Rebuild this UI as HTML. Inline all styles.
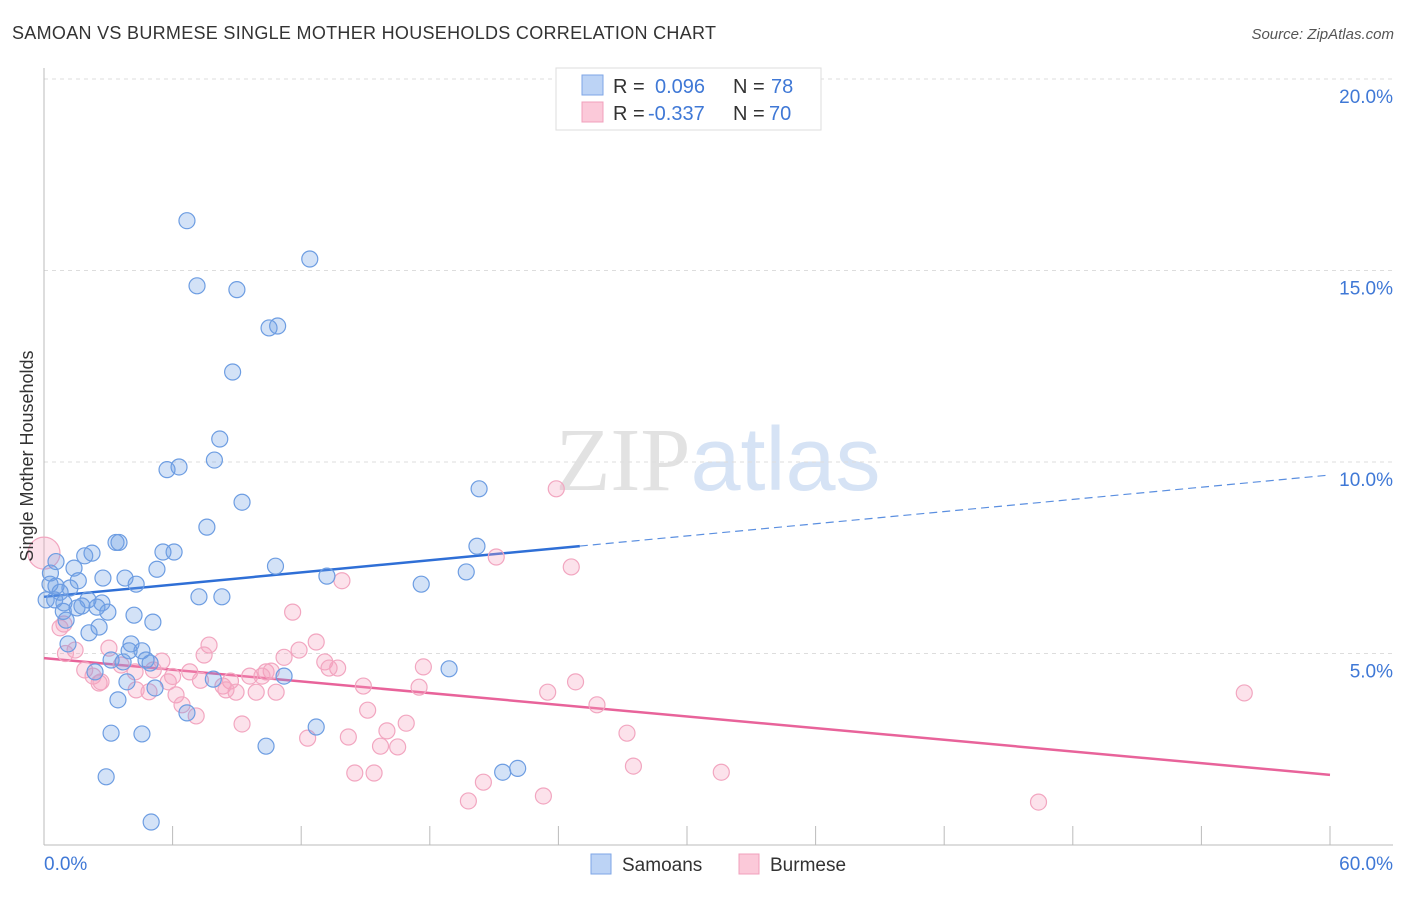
<!DOCTYPE html>
<html><head><meta charset="utf-8"><style>
body{margin:0;background:#fff;font-family:"Liberation Sans",sans-serif;}
svg text{font-family:"Liberation Sans",sans-serif;}
</style></head><body>
<svg id="chart" width="1406" height="892" xmlns="http://www.w3.org/2000/svg">
<text x="12" y="39" font-size="18" fill="#333" textLength="704" lengthAdjust="spacing">SAMOAN VS BURMESE SINGLE MOTHER HOUSEHOLDS CORRELATION CHART</text>
<text x="1394" y="39" font-size="15" fill="#555" text-anchor="end" font-style="italic">Source: ZipAtlas.com</text>
<text x="718" y="490" font-size="90" text-anchor="middle"><tspan fill="#e2e2e2" font-family="Liberation Serif">ZIP</tspan><tspan fill="#d6e3f5">atlas</tspan></text>
<g id="grid"></g>
<g id="axes"></g>
<g id="trends"></g>
<g id="points"></g>
<text transform="translate(33,456) rotate(-90)" font-size="18" fill="#333" text-anchor="middle">Single Mother Households</text>
<g>
<rect x="556" y="68" width="265" height="62" fill="#fff" stroke="#ddd"/>
<rect x="582" y="75" width="21" height="20" fill="#bcd3f5" stroke="#7ea6e6"/>
<rect x="582" y="102" width="21" height="20" fill="#fbc9d9" stroke="#f0a0bc"/>
<text x="613" y="93" font-size="20" fill="#333">R =</text><text x="655" y="93" font-size="20" fill="#3f78d6">0.096</text>
<text x="733" y="93" font-size="20" fill="#333">N =</text><text x="771" y="93" font-size="20" fill="#3f78d6">78</text>
<text x="613" y="120" font-size="20" fill="#333">R =</text><text x="648" y="120" font-size="20" fill="#3f78d6">-0.337</text>
<text x="733" y="120" font-size="20" fill="#333">N =</text><text x="769" y="120" font-size="20" fill="#3f78d6">70</text>
</g>
<g>
<rect x="591" y="854" width="20" height="20" fill="#bcd3f5" stroke="#7ea6e6"/>
<text x="622" y="871" font-size="19" fill="#333">Samoans</text>
<rect x="739" y="854" width="20" height="20" fill="#fbc9d9" stroke="#f0a0bc"/>
<text x="770" y="871" font-size="19" fill="#333">Burmese</text>
</g>
</svg>
<script>
const xTicks=[0,6,12,18,24,30,36,42,48,54,60];
const yTicks=[5,10,15,20];
const yTickLabels=["5.0%","10.0%","15.0%","20.0%"];
const xTickLabels=["0.0%","60.0%"];
const samoanX=[6.67,12.4,7.14,9.0,10.5,10.9,8.8,8.2,7.95,5.74,6.3,20.3,9.24,7.6,3.36,3.5,20.2,5.55,6.07,1.9,2.24,0.56,10.8,5.27,19.7,1.4,13.2,2.75,3.78,4.3,17.6,0.56,1.21,0.28,0.75,7.23,8.3,0.1,0.5,0.93,2.05,2.7,1.54,1.77,2.47,2.98,4.2,1.03,5.08,2.57,2.1,1.12,4.06,4.57,3.97,3.13,3.69,4.76,4.95,18.9,2.38,3.87,7.9,11.2,5.18,3.45,6.67,12.7,3.13,4.57,10.36,22.1,21.4,2.9,5.0,0.3,0.9,1.6];
const samoanY=[16.3,15.3,14.6,14.5,13.5,13.55,12.35,10.6,10.05,9.8,9.87,9.3,8.95,8.3,7.9,7.9,7.8,7.65,7.65,7.55,7.62,7.4,7.28,7.2,7.13,7.23,7.02,6.97,6.97,6.81,6.81,6.76,6.71,6.81,6.6,6.48,6.48,6.4,6.4,6.32,6.4,6.32,6.19,6.24,6.21,6.08,6.0,5.87,5.82,5.69,5.54,5.25,5.25,5.07,5.07,4.83,4.78,4.83,4.75,4.6,4.52,4.26,4.33,4.41,4.1,3.79,3.45,3.08,2.92,2.9,2.58,2.0,1.9,1.78,0.6,7.1,6.1,6.9];
const burmeseX=[0,23.9,21.1,24.6,13.9,11.6,0.93,0.75,12.7,11.9,7.7,7.47,1.45,3.03,11.2,13.1,13.7,13.3,17.7,5.5,1.9,2.29,2.57,2.66,6.8,4.25,5.1,10.36,10.6,9.6,10.17,5.8,8.7,8.35,8.96,9.9,10.83,8.49,14.9,17.5,24.8,4.3,6.16,6.44,7.1,23.5,56.0,25.8,15.1,9.24,16.9,16.0,27.2,14.2,12.3,15.7,16.5,27.5,14.5,15.4,31.6,20.5,23.3,19.8,46.4,3.6,4.9,6.0,7.3,1.0];
const burmeseY=[7.62,9.3,7.52,7.26,6.9,6.08,5.77,5.67,5.3,5.09,5.22,4.96,5.09,5.14,4.9,4.78,4.62,4.62,4.65,4.8,4.57,4.41,4.23,4.26,4.52,4.52,4.57,4.52,4.54,4.41,4.41,4.26,4.28,4.15,3.99,3.99,3.99,4.05,4.15,4.12,4.26,4.05,3.92,3.66,3.37,3.99,3.97,3.66,3.52,3.16,3.18,2.98,2.92,2.82,2.79,2.58,2.56,2.06,1.88,1.88,1.9,1.64,1.28,1.15,1.12,4.7,4.0,4.4,4.3,5.0];
const samoanTrend=[6.48,0.053]; // intercept, slope
const burmeseTrend=[4.88,-0.0508];
const samoanSolidEnd=25;
const NS="http://www.w3.org/2000/svg";
const X=v=>44+v/60*1286, Y=v=>845-v*38.3;
function mk(tag,attrs,parent){const e=document.createElementNS(NS,tag);for(const k in attrs)e.setAttribute(k,attrs[k]);parent.appendChild(e);return e;}
const grid=document.getElementById('grid'),axes=document.getElementById('axes');
yTicks.forEach((t,i)=>{
 const l=mk('line',{x1:44,x2:1393,y1:Y(t),y2:Y(t),stroke:'#ddd','stroke-dasharray':'4,4'},grid);
 
 
 const tx=mk('text',{x:1393,y:Y(t)+24,'font-size':19,fill:'#3f78d6','text-anchor':'end'},axes);
 tx.textContent=yTickLabels[i];
 
 
});
mk('line',{x1:44,x2:44,y1:68,y2:845,stroke:'#bbb'},axes);
mk('line',{x1:44,x2:1393,y1:845,y2:845,stroke:'#bbb'},axes);
xTicks.forEach(t=>{
 const l=mk('line',{x1:X(t),x2:X(t),y1:826,y2:845,stroke:'#bbb'},axes);
 
 
});
[[0,'start',44],[60,'end',1393]].forEach((d,i)=>{
 const tx=mk('text',{x:d[2],y:870,'font-size':19,fill:'#3f78d6','text-anchor':d[1]},axes);
 tx.textContent=xTickLabels[i];
 
 
});
const pts=document.getElementById('points');
burmeseX.forEach((x,i)=>{
 const c=mk('circle',{cx:X(x),cy:Y(burmeseY[i]),r:i===0?16:8,fill:'rgba(244,160,190,0.3)',stroke:'#f2a6c0','stroke-width':1.2},pts);
 
 
});
samoanX.forEach((x,i)=>{
 const c=mk('circle',{cx:X(x),cy:Y(samoanY[i]),r:8,fill:'rgba(110,160,230,0.3)',stroke:'#6d9de2','stroke-width':1.2},pts);
 
 
});
const tr=document.getElementById('trends');
const sy=v=>samoanTrend[0]+samoanTrend[1]*v, by=v=>burmeseTrend[0]+burmeseTrend[1]*v;
const s1=mk('line',{x1:X(0),y1:Y(sy(0)),x2:X(samoanSolidEnd),y2:Y(sy(samoanSolidEnd)),stroke:'#2f6fd6','stroke-width':2.5},tr);


const s2=mk('line',{x1:X(samoanSolidEnd),y1:Y(sy(samoanSolidEnd)),x2:X(60),y2:Y(sy(60)),stroke:'#5b8fe0','stroke-width':1.2,'stroke-dasharray':'8,5'},tr);


const b1=mk('line',{x1:X(0),y1:Y(by(0)),x2:X(60),y2:Y(by(60)),stroke:'#e8639a','stroke-width':2.5},tr);


</script>
</body></html>
